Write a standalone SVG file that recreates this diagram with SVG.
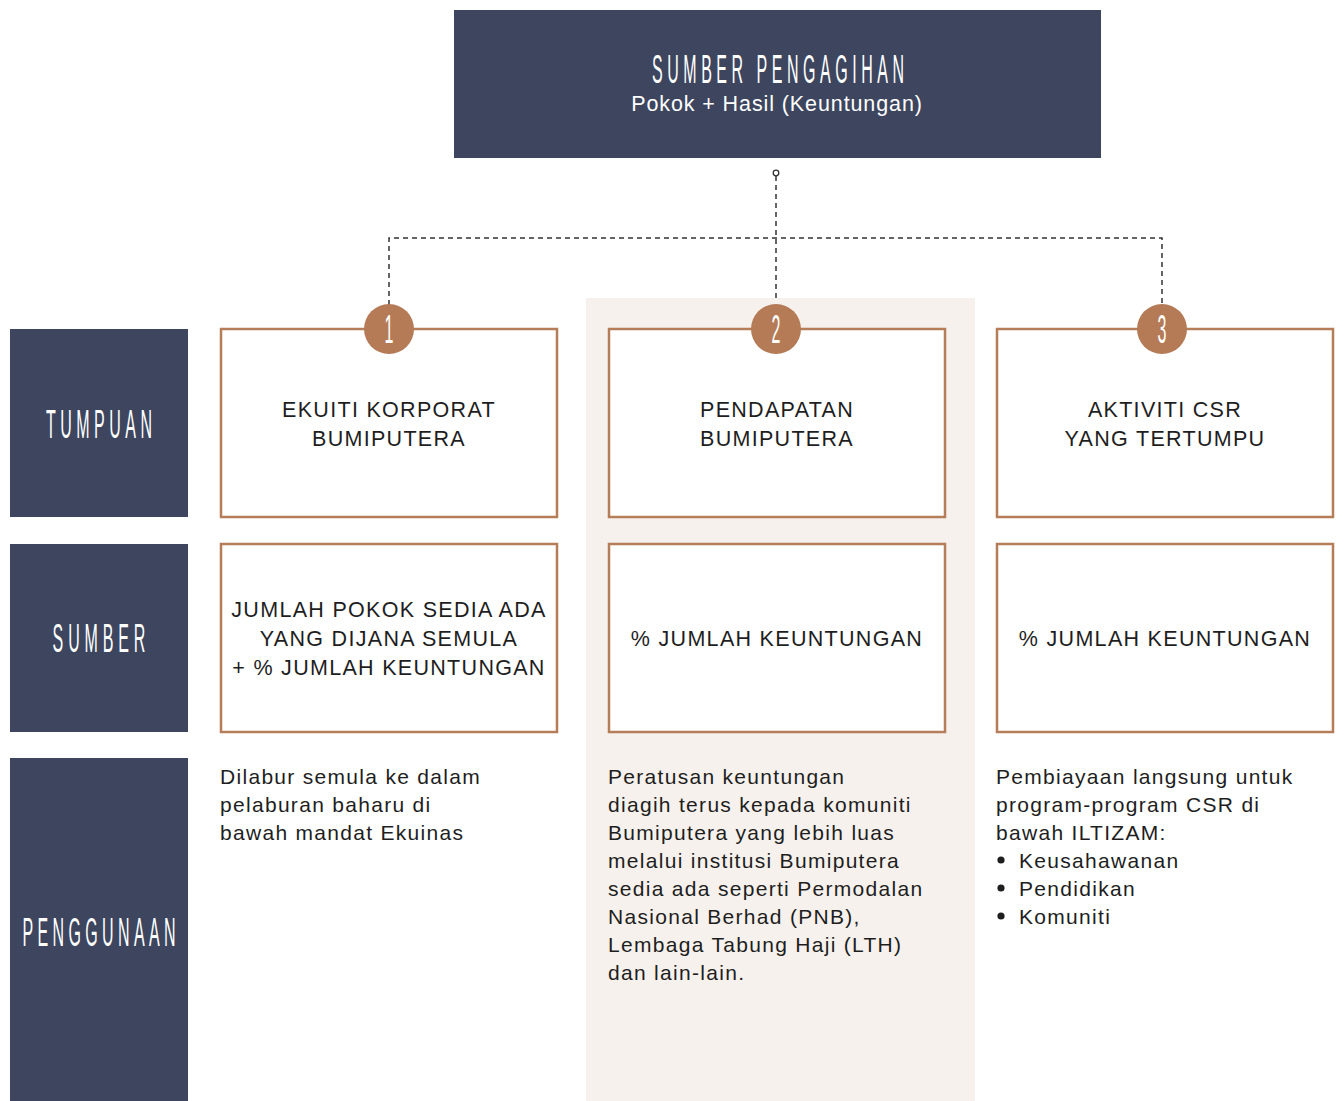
<svg xmlns="http://www.w3.org/2000/svg" width="1340" height="1101" viewBox="0 0 1340 1101">
<style>
.dark{fill:#3d465e}
.box{fill:#ffffff;stroke:#b57d58;stroke-width:2.5}
.badge{fill:#b47b56}
.cond{font-family:"Liberation Sans",Arial,sans-serif;fill:#ffffff;text-anchor:middle;font-size:40px}
.cap{font-family:"Liberation Sans",Arial,sans-serif;font-size:21.5px;fill:#1e1e1e;text-anchor:middle;letter-spacing:1.3px}
.body{font-family:"Liberation Sans",Arial,sans-serif;font-size:21px;fill:#1e1e1e;letter-spacing:1.3px}
.dash{fill:none;stroke:#333;stroke-width:1.5;stroke-dasharray:5,4}
.dot{fill:#1e1e1e}
</style>
<rect x="0" y="0" width="1340" height="1101" fill="#ffffff"/>
<rect x="586" y="298" width="389" height="803" fill="#f6f1ed"/>

<g id="connectors">
<path class="dash" d="M776 176 V300"/>
<path class="dash" d="M389 305 V238 H1162 V305"/>
<circle cx="776" cy="173" r="2.8" fill="#fff" stroke="#333" stroke-width="1.3"/>
</g>

<g id="source">
<rect class="dark" x="454" y="10" width="647" height="148"/>
<text class="cond" transform="translate(778 83) scale(0.4 1)" x="0" y="0" textLength="630" lengthAdjust="spacing">SUMBER PENGAGIHAN</text>
<text x="777" y="111" font-family="'Liberation Sans',Arial,sans-serif" font-size="21.5" letter-spacing="0.9" fill="#fff" text-anchor="middle">Pokok + Hasil (Keuntungan)</text>
</g>

<g id="label-tumpuan">
<rect class="dark" x="10" y="329" width="178" height="188"/>
<text class="cond" transform="translate(99 438) scale(0.4 1)" x="0" y="0" textLength="265" lengthAdjust="spacing">TUMPUAN</text>
</g>
<g id="label-sumber">
<rect class="dark" x="10" y="544" width="178" height="188"/>
<text class="cond" transform="translate(99 652) scale(0.4 1)" x="0" y="0" textLength="232" lengthAdjust="spacing">SUMBER</text>
</g>
<g id="label-penggunaan">
<rect class="dark" x="10" y="758" width="178" height="343"/>
<text class="cond" transform="translate(99 946) scale(0.4 1)" x="0" y="0" textLength="383" lengthAdjust="spacing">PENGGUNAAN</text>
</g>

<g id="tumpuan-1">
<rect class="box" x="221" y="329" width="336" height="188"/>
<text class="cap" x="389" y="417">EKUITI KORPORAT</text>
<text class="cap" x="389" y="446">BUMIPUTERA</text>
</g>
<g id="tumpuan-2">
<rect class="box" x="609" y="329" width="336" height="188"/>
<text class="cap" x="777" y="417">PENDAPATAN</text>
<text class="cap" x="777" y="446">BUMIPUTERA</text>
</g>
<g id="tumpuan-3">
<rect class="box" x="997" y="329" width="336" height="188"/>
<text class="cap" x="1165" y="417">AKTIVITI CSR</text>
<text class="cap" x="1165" y="446">YANG TERTUMPU</text>
</g>

<g id="badge-1">
<circle class="badge" cx="389" cy="329" r="25"/>
<text class="cond" transform="translate(389 343) scale(0.4 1)" x="0" y="0">1</text>
</g>
<g id="badge-2">
<circle class="badge" cx="776" cy="329" r="25"/>
<text class="cond" transform="translate(776 343) scale(0.4 1)" x="0" y="0">2</text>
</g>
<g id="badge-3">
<circle class="badge" cx="1162" cy="329" r="25"/>
<text class="cond" transform="translate(1162 343) scale(0.4 1)" x="0" y="0">3</text>
</g>

<g id="sumber-1">
<rect class="box" x="221" y="544" width="336" height="188"/>
<text class="cap" x="389" y="617">JUMLAH POKOK SEDIA ADA</text>
<text class="cap" x="389" y="646">YANG DIJANA SEMULA</text>
<text class="cap" x="389" y="675">+ % JUMLAH KEUNTUNGAN</text>
</g>
<g id="sumber-2">
<rect class="box" x="609" y="544" width="336" height="188"/>
<text class="cap" x="777" y="646">% JUMLAH KEUNTUNGAN</text>
</g>
<g id="sumber-3">
<rect class="box" x="997" y="544" width="336" height="188"/>
<text class="cap" x="1165" y="646">% JUMLAH KEUNTUNGAN</text>
</g>

<g id="penggunaan-1">
<text class="body" x="220" y="784">Dilabur semula ke dalam</text>
<text class="body" x="220" y="812">pelaburan baharu di</text>
<text class="body" x="220" y="840">bawah mandat Ekuinas</text>
</g>
<g id="penggunaan-2">
<text class="body" x="608" y="784">Peratusan keuntungan</text>
<text class="body" x="608" y="812">diagih terus kepada komuniti</text>
<text class="body" x="608" y="840">Bumiputera yang lebih luas</text>
<text class="body" x="608" y="868">melalui institusi Bumiputera</text>
<text class="body" x="608" y="896">sedia ada seperti Permodalan</text>
<text class="body" x="608" y="924">Nasional Berhad (PNB),</text>
<text class="body" x="608" y="952">Lembaga Tabung Haji (LTH)</text>
<text class="body" x="608" y="980">dan lain-lain.</text>
</g>
<g id="penggunaan-3">
<text class="body" x="996" y="784">Pembiayaan langsung untuk</text>
<text class="body" x="996" y="812">program-program CSR di</text>
<text class="body" x="996" y="840">bawah ILTIZAM:</text>
<circle class="dot" cx="1001" cy="860" r="3.6"/><text class="body" x="1019" y="868">Keusahawanan</text>
<circle class="dot" cx="1001" cy="888" r="3.6"/><text class="body" x="1019" y="896">Pendidikan</text>
<circle class="dot" cx="1001" cy="916" r="3.6"/><text class="body" x="1019" y="924">Komuniti</text>
</g>
</svg>
